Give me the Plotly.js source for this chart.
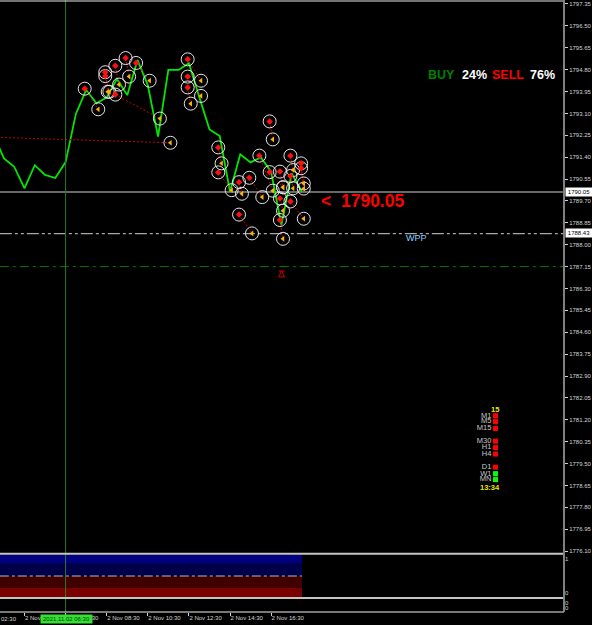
<!DOCTYPE html>
<html>
<head>
<meta charset="utf-8">
<script src="https://cdn.plot.ly/plotly-3.0.1.min.js"></script>
<style>html,body{margin:0;padding:0;background:#000;}#chart{width:592px;height:625px;}</style>
</head>
<body>
<div id="chart"></div>
<script>
// Time is hours since 00:00 on 2 Nov 2021
const closeHours = [3,3.5,4,4.5,5,5.5,6,6.5,7,7.5,8,8.5,9,9.5,10,10.5,11,11.5,12,12.5,13,13.5,14,14.5,15,15.5,16,16.5,17,17.5,18];
const closePrices = [1792.25,1791.35,1791.03,1790.19,1791.09,1790.71,1790.59,1791.21,1793.08,1794.01,1793.49,1793.72,1794.44,1793.81,1795.17,1794.20,1792.20,1794.79,1794.79,1795.05,1793.75,1792.48,1792.22,1790.06,1791.51,1791.20,1791.39,1790.84,1788.76,1790.77,1790.06];

const openTimes = [7.43,8.43,8.43,8.92,8.92,9.42,9.93,2.0,12.44,12.44,12.44,13.93,13.93,14.94,15.44,14.94,15.93,16.43,16.43,16.93,16.93,16.93,17.44,17.44,17.44,17.96,17.96];
const openPrices = [1794.06,1794.70,1794.55,1794.95,1793.83,1795.25,1795.06,1792.20,1795.20,1794.53,1794.11,1791.78,1790.81,1790.43,1790.60,1789.17,1791.46,1792.79,1790.82,1790.84,1789.80,1788.96,1791.46,1790.67,1789.68,1791.16,1790.97];
const exitTimes = [8.09,8.55,8.63,9.10,11.09,9.59,10.59,11.60,13.09,13.09,12.59,14.09,14.58,15.08,16.07,15.57,16.58,16.58,17.08,17.08,17.08,17.08,17.57,17.57,18.09,18.09,18.09];
const exitPrices = [1793.26,1793.94,1793.94,1794.22,1792.90,1794.53,1794.37,1791.96,1794.37,1793.78,1793.48,1791.16,1790.12,1789.98,1789.85,1788.44,1790.10,1792.09,1790.23,1790.23,1789.32,1788.23,1790.90,1790.19,1789.01,1790.38,1790.18];

const bidPrice = 1790.05, pivotPrice = 1788.43, lowerLevel = 1787.15;
const crosshairHour = 6.5;
const arrowHour = 17.01, arrowPrice = 1786.98;

const priceTicks = [1797.35,1796.50,1795.65,1794.80,1793.95,1793.10,1792.25,1791.40,1790.55,1789.70,1788.85,1788.00,1787.15,1786.30,1785.45,1784.60,1783.75,1782.90,1782.05,1781.20,1780.35,1779.50,1778.65,1777.80,1776.95,1776.10];
const timeTickHours = [4.5,6.5,8.5,10.5,12.5,14.5,16.5];
const timeTickLabels = ['2 Nov 04:30','2 Nov 06:30','2 Nov 08:30','2 Nov 10:30','2 Nov 12:30','2 Nov 14:30','2 Nov 16:30'];

const frameNames = ['M1','M5','M15','M30','H1','H4','D1','W1','MN'];
const frameHour = 27.42;
const framePrices = [1781.36,1781.13,1780.86,1780.37,1780.12,1779.87,1779.36,1779.11,1778.88];
const frameColors = ['#ff0000','#ff0000','#ff0000','#ff0000','#ff0000','#ff0000','#ff0000','#00ff00','#00ff00'];

const bandStart = 2, bandEnd = 18;
const bandBottoms = [0.88,0.5,0.15,-0.12];
const bandTops = [1.12,0.88,0.49,0.15];
const bandColors = ['#000080','#00004a','#400000','#7b0000'];

const GREY = '#d4d4d4';
const SANS = '"Liberation Sans",Arial,sans-serif';
const TICKFONT = {family:SANS, size:6, color:GREY};
const H = 612, W = 564;

const linkX = [], linkY = [];
openTimes.forEach((t,i)=>{ linkX.push(t, exitTimes[i], null); linkY.push(openPrices[i], exitPrices[i], null); });

const traces = [];
traces.push({x:[3.3,30.76],y:[bidPrice,bidPrice],mode:'lines',line:{color:'#8c8c8c',width:1.6}});
traces.push({x:[3.3,30.76],y:[pivotPrice,pivotPrice],mode:'lines',line:{color:'#a8a8a8',width:1.2,dash:'12px 3px 3px 3px 3px 3px'}});
traces.push({x:[3.3,30.76],y:[lowerLevel,lowerLevel],mode:'lines',line:{color:'#067a06',width:1,dash:'9px 4px 3px 4px'}});
traces.push({x:closeHours,y:closePrices,mode:'lines',line:{color:'#00e800',width:1.8}});
traces.push({x:linkX,y:linkY,mode:'lines',connectgaps:false,line:{color:'#c80000',width:1,dash:'2px 2px'}});
const ring = {symbol:'circle-open',size:13,color:'#e6e6e6',line:{width:1,color:'#e6e6e6'}};
traces.push({x:openTimes,y:openPrices,mode:'markers',marker:ring});
traces.push({x:exitTimes,y:exitPrices,mode:'markers',marker:ring});
traces.push({x:openTimes,y:openPrices,mode:'markers',marker:{symbol:'diamond',size:5,color:'#ff1010'}});
traces.push({x:exitTimes,y:exitPrices,mode:'markers',marker:{symbol:'triangle-left',size:5,color:'#ffb000'}});
traces.push({x:[arrowHour],y:[arrowPrice],mode:'markers',marker:{symbol:'arrow-bar-up-open',size:6,color:'#d00000',line:{width:1,color:'#d00000'}}});
traces.push({x:frameNames.map(()=>frameHour),y:framePrices,mode:'markers+text',text:frameNames,textposition:'middle left',
  textfont:{family:SANS,size:7.5,color:'#c8c8c8'},marker:{symbol:'square',size:5,color:frameColors}});
bandColors.forEach((c,i)=>{
  traces.push({type:'bar',x:[(bandStart+bandEnd)/2],width:[bandEnd-bandStart],base:[bandBottoms[i]],y:[bandTops[i]-bandBottoms[i]],
    marker:{color:c,line:{width:0}},yaxis:'y2'});
});
traces.push({x:[3.3,18],y:[0.5,0.5],yaxis:'y2',mode:'lines',line:{color:'#b8b8b8',width:1,dash:'9px 3px 3px 3px'}});
traces.push({x:[3.3,18],y:[0,0],yaxis:'y3',mode:'lines',line:{color:'#000',width:1}});

const px = (x)=>x/W, py = (y)=>1-y/H;
function label(x,y,text,size,color,extra){
  return Object.assign({xref:'paper',yref:'paper',x:px(x),y:py(y),text:text,showarrow:false,xanchor:'left',yanchor:'middle',borderpad:0,
    font:{family:SANS,size:size,color:color}},extra||{});
}
function bold(s){return '<b>'+s+'</b>';}
const hline = (y,c,w)=>({type:'line',xref:'paper',yref:'paper',x0:0,x1:1,y0:py(y),y1:py(y),line:{color:c,width:w}});

const layout = {
  width:592,height:625,showlegend:false,paper_bgcolor:'#000',plot_bgcolor:'#000',
  margin:{l:0,r:28,t:0,b:13,pad:0},barmode:'overlay',bargap:0,
  xaxis:{range:[3.308,30.753],anchor:'y3',showgrid:false,zeroline:false,showline:false,tickangle:0,
    tickmode:'array',tickvals:timeTickHours,ticktext:timeTickLabels,ticks:'outside',ticklen:3,tickcolor:'#d0d0d0',tickwidth:1,
    ticklabelposition:'outside right',tickfont:TICKFONT,automargin:false},
  yaxis:{domain:[1-553.7/H,1],range:[1776.0,1797.505],anchor:'x',side:'right',showgrid:false,zeroline:false,showline:false,
    tickmode:'array',tickvals:priceTicks,ticktext:priceTicks.map(v=>v.toFixed(2)),ticks:'outside',ticklen:3,tickcolor:'#d0d0d0',tickfont:TICKFONT,automargin:false},
  yaxis2:{domain:[1-597/H,1-555/H],range:[-0.12,1.12],anchor:'x',side:'right',showgrid:false,zeroline:false,showline:false,
    tickmode:'array',tickvals:[1,0],ticktext:['1','0'],ticks:'',tickfont:TICKFONT,automargin:false},
  yaxis3:{domain:[0,1-600/H],range:[0,1],anchor:'x',side:'right',showgrid:false,zeroline:false,showline:false,
    tickmode:'array',tickvals:[0.75,0.33],ticktext:['0','0'],ticks:'',tickfont:TICKFONT,automargin:false},
  shapes:[
    {type:'line',xref:'x',yref:'paper',x0:crosshairHour,x1:crosshairHour,y0:0,y1:1,line:{color:'#2c7a2c',width:1}},
    hline(1,'#e8e8e8',1),
    hline(553.7,'#c4c4c4',2),
    hline(598,'#c4c4c4',2),
    hline(612,'#f0f0f0',1),
    {type:'line',xref:'paper',yref:'paper',x0:1,x1:1,y0:0,y1:1,line:{color:'#808080',width:2}}
  ],
  annotations:[
    label(427,75,bold('BUY'),12.5,'#008000'),
    label(461,75,bold('24%'),12.5,'#ffffff'),
    label(491,75,bold('SELL'),12.5,'#ff0000'),
    label(529,75,bold('76%'),12.5,'#ffffff'),
    label(320,201.5,bold('&lt;  1790.05'),17.5,'#ff0000'),
    label(405,238,'WPP',9,'#8fd0ff'),
    label(490,409,bold('15'),7.5,'#e8e800'),
    label(479,487.5,bold('13:34'),7.5,'#e8e800'),
    label(0,618.5,'02:30',6,GREY),
    label(40,618.5,'2021.11.02 06:30',6,'#0a3a0a',{bgcolor:'#33e033',width:51,height:8,align:'center'}),
    label(565,191.7,bidPrice.toFixed(2),6,'#000',{bgcolor:'#ffffff',width:26,height:8,align:'center'}),
    label(565,232.7,pivotPrice.toFixed(2),6,'#000',{bgcolor:'#ffffff',width:26,height:8,align:'center'})
  ]
};
Plotly.newPlot('chart',traces,layout,{displayModeBar:false,staticPlot:true});
</script>
</body>
</html>
